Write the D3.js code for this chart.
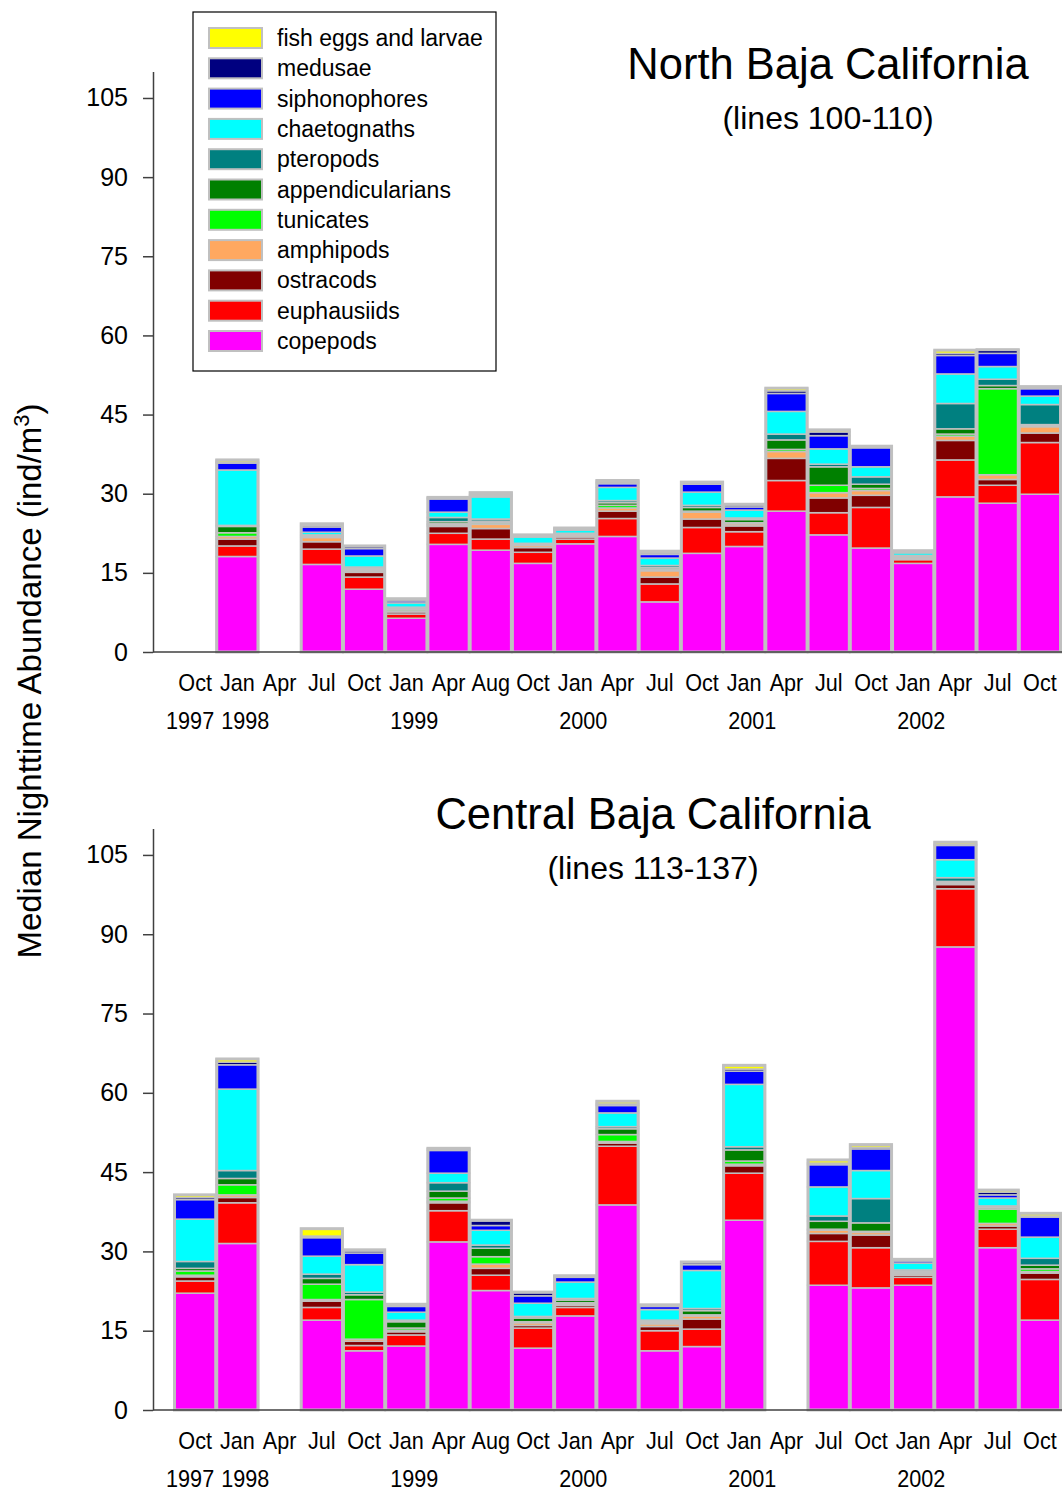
<!DOCTYPE html>
<html>
<head>
<meta charset="utf-8">
<script src="https://cdn.jsdelivr.net/npm/d3@7"></script>
<style>
  body { margin: 0; background: #fff; }
  svg { font-family: "Liberation Sans", Arial, sans-serif; }
</style>
</head>
<body>
<svg></svg>
<script>
/* categories */
var months = ["Oct","Jan","Apr","Jul","Oct","Jan","Apr","Aug","Oct","Jan","Apr","Jul","Oct","Jan","Apr","Jul","Oct","Jan","Apr","Jul","Oct"];
var years = [{i: 0, t: "1997"}, {i: 1, t: "1998"}, {i: 5, t: "1999"}, {i: 9, t: "2000"}, {i: 13, t: "2001"}, {i: 17, t: "2002"}];
var yTicks = [0, 15, 30, 45, 60, 75, 90, 105];

/* groups, bottom of the stack first */
var groups = ["copepods","euphausiids","ostracods","amphipods","tunicates","appendicularians","pteropods","chaetognaths","siphonophores","medusae","fish eggs and larvae"];
var colors = ["#ff00ff","#ff0000","#800000","#ffa860","#00ff00","#008000","#008080","#00ffff","#0000ff","#000080","#ffff00"];

/* North Baja California (lines 100-110) */
var north_copepods     = [null,18.1,null,16.6,11.9,6.4,20.4,19.3,16.8,20.5,21.9,9.5,18.7,20.0,26.7,22.2,19.7,16.8,29.4,28.2,29.9];
var north_euphausiids  = [null,2.0,null,2.9,2.3,0.8,2.1,2.1,2.1,0.9,3.4,3.4,4.9,2.8,5.8,4.2,7.7,0.7,7.0,3.4,9.8];
var north_ostracods    = [null,1.3,null,1.4,0.9,0.4,1.3,2.0,0.9,0.4,1.4,1.3,1.6,1.1,4.2,2.8,2.3,0.2,3.7,1.1,1.8];
var north_amphipods    = [null,0.5,null,0.8,0.3,0.2,0.3,0.8,0.4,0.3,0.6,1.2,1.3,0.4,1.3,1.0,0.9,0.2,0.8,0.9,1.2];
var north_tunicates    = [null,0.7,null,0.1,0.2,0.3,0.2,0.3,0.1,0.1,0.5,0.3,0.2,0.2,0.4,1.4,0.4,0.1,0.4,16.3,0.2];
var north_appendic     = [null,1.2,null,0.2,0.2,0.2,0.4,0.3,0.1,0.1,0.5,0.3,0.7,0.6,1.8,3.5,0.8,0.1,1.0,0.6,0.2];
var north_pteropods    = [null,0.2,null,0.2,0.3,0.2,0.8,0.4,0.2,0.2,0.4,0.4,0.4,0.3,1.1,0.5,1.4,0.2,4.8,1.2,3.8];
var north_chaetognaths = [null,10.5,null,0.5,2.1,0.8,1.0,4.2,1.2,0.6,2.5,1.4,2.5,1.5,4.3,2.9,1.9,0.5,5.6,2.4,1.6];
var north_siphono      = [null,1.3,null,1.0,1.4,0.4,2.5,0.2,0.2,0.2,0.7,0.7,1.5,0.6,3.4,2.5,3.6,0.2,3.5,2.5,1.4];
var north_medusae      = [null,0.2,null,0.3,0.4,0.3,0.2,0.2,0.1,0.1,0.3,0.3,0.3,0.4,0.5,0.7,0.2,0.1,0.4,0.6,0.3];
var north_fish         = [null,0.4,null,0.3,0.1,0.1,0.1,0.4,0.1,0.1,0.3,0.3,0.1,0.1,0.5,0.4,0.1,0.1,0.6,0.1,0.1];

/* Central Baja California (lines 113-137) */
var central_copepods     = [22.1,31.5,null,17.0,11.2,12.1,31.8,22.6,11.7,17.8,38.8,11.2,12.0,35.9,null,23.6,23.1,23.6,87.6,30.7,17.0];
var central_euphausiids  = [2.3,7.7,null,2.4,1.0,2.1,5.9,2.9,3.8,1.6,11.1,3.8,3.3,8.9,null,8.3,7.6,1.5,11.0,3.5,7.7];
var central_ostracods    = [0.8,1.0,null,1.2,0.8,0.6,1.5,1.3,0.5,0.4,0.6,0.8,1.9,1.4,null,1.5,2.4,0.4,0.8,0.6,1.2];
var central_amphipods    = [0.3,0.5,null,0.3,0.4,0.3,0.3,0.8,0.5,0.3,0.3,0.5,0.6,0.3,null,0.6,0.5,0.3,0.3,0.5,0.3];
var central_tunicates    = [0.8,1.9,null,2.9,7.5,0.4,0.6,1.4,0.2,0.2,1.3,0.2,0.2,0.6,null,0.2,0.2,0.2,0.1,2.7,0.5];
var central_appendic     = [0.5,1.2,null,1.1,0.9,1.2,1.3,1.6,0.7,0.5,1.1,0.2,0.8,2.1,null,1.5,1.6,0.2,0.2,0.3,0.7];
var central_pteropods    = [1.3,1.5,null,0.8,0.5,0.3,1.6,0.6,0.3,0.3,0.4,0.3,0.4,0.6,null,1.0,4.6,0.3,0.7,0.3,1.3];
var central_chaetognaths = [8.0,15.4,null,3.4,5.2,1.5,1.8,2.8,2.5,3.1,2.6,2.0,7.2,11.8,null,5.5,5.3,1.3,3.4,1.5,4.0];
var central_siphono      = [3.7,4.6,null,3.5,2.2,1.1,4.3,0.9,1.4,0.9,1.4,0.6,1.1,2.5,null,4.2,4.1,0.4,2.7,0.6,3.8];
var central_medusae      = [0.4,0.5,null,0.3,0.4,0.3,0.3,0.9,0.6,0.2,0.3,0.2,0.4,0.4,null,0.3,0.3,0.2,0.2,0.5,0.2];
var central_fish         = [0.5,0.6,null,1.4,0.2,0.1,0.1,0.1,0.1,0.1,0.5,0.1,0.1,0.7,null,0.6,0.5,0.1,0.4,0.4,0.5];

var northSeries = [north_copepods, north_euphausiids, north_ostracods, north_amphipods, north_tunicates,
  north_appendic, north_pteropods, north_chaetognaths, north_siphono, north_medusae, north_fish];
var centralSeries = [central_copepods, central_euphausiids, central_ostracods, central_amphipods, central_tunicates,
  central_appendic, central_pteropods, central_chaetognaths, central_siphono, central_medusae, central_fish];

/* svg setting */
var svgWidth = 1062;
var svgHeight = 1491;
var axisColor = "#404040";
var barStroke = "#c0c0c0";
var narrow = "scale(0.9,1)";  // axis labels of the original are a bit condensed

var svg = d3.select("svg")
    .attr("width", svgWidth)
    .attr("height", svgHeight);

var x = d3.scaleBand()
    .domain(d3.range(months.length))
    .range([174, 1061])
    .padding(0);

function buildTable(series) {
  return months.map(function(m, i) {
    var row = {idx: i};
    groups.forEach(function(g, k) { row[g] = series[k][i] || 0; });
    row.missing = series[0][i] == null;
    return row;
  });
}

function drawPanel(series, top, bottom, title, subtitle, titleX, titleY) {
  var y = d3.scaleLinear().domain([0, 110]).range([bottom, top]);
  var table = buildTable(series);
  var stacked = d3.stack().keys(groups)(table);
  var g = svg.append("g");

  // bars
  stacked.forEach(function(layer, k) {
    g.append("g").selectAll("rect")
        .data(layer.filter(function(d) { return !d.data.missing; }))
        .enter()
        .append("rect")
        .attr("x", function(d) { return x(d.data.idx); })
        .attr("width", x.bandwidth())
        .attr("y", function(d) { return y(d[1]); })
        .attr("height", function(d) { return y(d[0]) - y(d[1]); })
        .attr("fill", colors[k])
        .attr("stroke", barStroke)
        .attr("stroke-width", 1.5);
  });

  // outline of whole bar
  g.append("g").selectAll("rect")
      .data(table.filter(function(d) { return !d.missing; }))
      .enter()
      .append("rect")
      .attr("x", function(d) { return x(d.idx) + 0.5; })
      .attr("width", x.bandwidth() - 1)
      .attr("y", function(d) { return y(d3.sum(groups, function(k) { return d[k]; })); })
      .attr("height", function(d) { return y(0) - y(d3.sum(groups, function(k) { return d[k]; })); })
      .attr("fill", "none")
      .attr("stroke", barStroke)
      .attr("stroke-width", 3);

  // y axis
  var yAxis = g.append("g")
      .attr("transform", translate(153, 0))
      .call(d3.axisLeft(y).tickValues(yTicks).tickSize(10).tickSizeOuter(0).tickPadding(15));
  yAxis.selectAll("text").attr("font-size", 25).attr("fill", "#000");
  yAxis.selectAll("line, path").attr("stroke", axisColor).attr("stroke-width", 1.5);
  yAxis.attr("font-family", null);

  // x axis base line
  g.append("line")
      .attr("x1", 153).attr("x2", 1062)
      .attr("y1", y(0)).attr("y2", y(0))
      .attr("stroke", axisColor).attr("stroke-width", 1.5);

  var xAxis = g.append("g")
      .attr("transform", translate(0, y(0)))
      .call(d3.axisBottom(x).tickSize(0).tickPadding(22).tickFormat(function(i) { return months[i]; }));
  xAxis.select(".domain").remove();
  xAxis.selectAll("text").attr("font-size", 24).attr("fill", "#000").attr("transform", narrow);
  xAxis.attr("font-family", null);

  // year labels
  g.selectAll(".year")
      .data(years)
      .enter()
      .append("g")
      .attr("transform", function(d) {
        return translate(x(d.i) + x.bandwidth() / 2 + (d.i === 0 ? -5 : 8), y(0) + 77);
      })
      .append("text")
      .attr("transform", narrow)
      .attr("text-anchor", "middle")
      .attr("font-size", 24)
      .text(function(d) { return d.t; });

  // titles
  g.append("text")
      .attr("x", titleX).attr("y", titleY)
      .attr("text-anchor", "middle")
      .attr("font-size", 43.5)
      .text(title);
  g.append("text")
      .attr("x", titleX).attr("y", titleY + 50)
      .attr("text-anchor", "middle")
      .attr("font-size", 32)
      .text(subtitle);
}

drawPanel(northSeries, 71.6, 652, "North Baja California", "(lines 100-110)", 828, 79);
drawPanel(centralSeries, 828.5, 1410, "Central Baja California", "(lines 113-137)", 653, 829);

/* legend */
var legend = svg.append("g").attr("transform", translate(193, 12));
legend.append("rect")
    .attr("width", 303).attr("height", 359)
    .attr("fill", "#fff").attr("stroke", "#000").attr("stroke-width", 1.2);

var legendItems = groups.slice().reverse();
var legendColors = colors.slice().reverse();
var row = legend.selectAll(".item")
    .data(legendItems)
    .enter()
    .append("g")
    .attr("transform", function(d, i) { return translate(16, 16 + i * 30.3); });
row.append("rect")
    .attr("width", 53).attr("height", 20)
    .attr("fill", function(d, i) { return legendColors[i]; })
    .attr("stroke", barStroke).attr("stroke-width", 2);
row.append("text")
    .attr("x", 68).attr("y", 18)
    .attr("font-size", 23)
    .text(function(d) { return d; });

/* y axis title */
var ylab = svg.append("text")
    .attr("transform", translate(41, 681) + " rotate(-90)")
    .attr("text-anchor", "middle")
    .attr("font-size", 33);
ylab.append("tspan").text("Median Nighttime Abundance  (ind/m");
ylab.append("tspan").attr("baseline-shift", "super").attr("font-size", 22).text("3");
ylab.append("tspan").text(")");

function translate(x, y) {
  return "translate(" + x + "," + y + ")";
}
</script>
</body>
</html>
